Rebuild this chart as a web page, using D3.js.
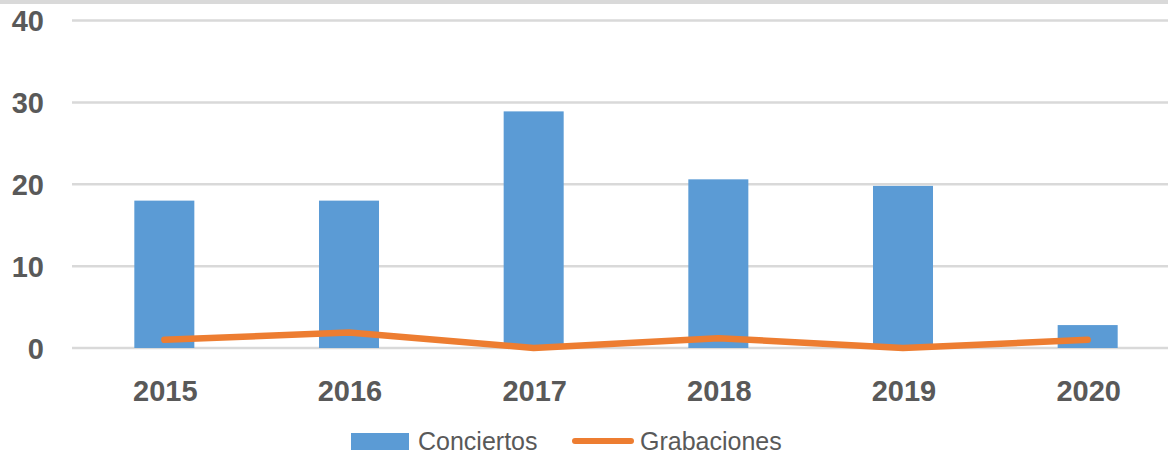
<!DOCTYPE html>
<html>
<head>
<meta charset="utf-8">
<script src="https://cdn.jsdelivr.net/npm/d3@7"></script>
<style>
  html, body { margin: 0; padding: 0; background: #fff; }
  svg { display: block; }
</style>
</head>
<body>
<svg id="chart" width="1168" height="456"></svg>
<script>
const categories = ["2015", "2016", "2017", "2018", "2019", "2020"];
const conciertos = [18, 18, 28.9, 20.6, 19.8, 2.8];
const grabaciones = [1, 1.9, 0, 1.2, 0, 1];
const yTicks = [0, 10, 20, 30, 40];
const seriesNames = ["Conciertos", "Grabaciones"];

const W = 1168, H = 456;
const svg = d3.select("#chart");

const x = d3.scaleBand().domain(categories).range([72, 1180]).paddingInner(0.675).paddingOuter(0.3375);
const y = d3.scaleLinear().domain([0, 40]).range([348, 20.5]);

// top band
svg.append("rect").attr("x", 0).attr("y", 0).attr("width", W).attr("height", 4).attr("fill", "#d9d9d9");

// gridlines
svg.append("g").selectAll("line").data(yTicks).join("line")
  .attr("x1", 72).attr("x2", W)
  .attr("y1", d => y(d)).attr("y2", d => y(d))
  .attr("stroke", "#d9d9d9").attr("stroke-width", 2.5);

// y labels
svg.append("g").selectAll("text").data(yTicks).join("text")
  .attr("x", 44).attr("y", d => y(d) + 10.5)
  .attr("text-anchor", "end")
  .attr("font-family", "Liberation Sans, Arial, sans-serif")
  .attr("font-weight", "bold").attr("font-size", 29)
  .attr("fill", "#595959")
  .text(d => d);

// bars
svg.append("g").selectAll("rect").data(categories).join("rect")
  .attr("x", d => x(d))
  .attr("width", x.bandwidth())
  .attr("y", (d, i) => y(conciertos[i]))
  .attr("height", (d, i) => y(0) - y(conciertos[i]))
  .attr("fill", "#5b9bd5");

// line
const line = d3.line()
  .x((d, i) => x(categories[i]) + x.bandwidth() / 2)
  .y(d => y(d));
svg.append("path").datum(grabaciones)
  .attr("d", line)
  .attr("fill", "none").attr("stroke", "#ed7d31")
  .attr("stroke-width", 6.5).attr("stroke-linecap", "round").attr("stroke-linejoin", "round");

// x labels
svg.append("g").selectAll("text").data(categories).join("text")
  .attr("x", d => x(d) + x.bandwidth() / 2 + 1)
  .attr("y", 400.5)
  .attr("text-anchor", "middle")
  .attr("font-family", "Liberation Sans, Arial, sans-serif")
  .attr("font-weight", "bold").attr("font-size", 29)
  .attr("fill", "#595959")
  .text(d => d);

// legend
const lg = svg.append("g");
lg.append("rect").attr("x", 351).attr("y", 433).attr("width", 58).attr("height", 17).attr("fill", "#5b9bd5");
lg.append("text").attr("x", 418).attr("y", 449.5)
  .attr("font-family", "Liberation Sans, Arial, sans-serif").attr("font-size", 25)
  .attr("fill", "#595959").text(seriesNames[0]);
lg.append("line").attr("x1", 575).attr("x2", 631).attr("y1", 441).attr("y2", 441)
  .attr("stroke", "#ed7d31").attr("stroke-width", 6).attr("stroke-linecap", "round");
lg.append("text").attr("x", 640).attr("y", 449.5)
  .attr("font-family", "Liberation Sans, Arial, sans-serif").attr("font-size", 25)
  .attr("fill", "#595959").text(seriesNames[1]);
</script>
</body>
</html>
